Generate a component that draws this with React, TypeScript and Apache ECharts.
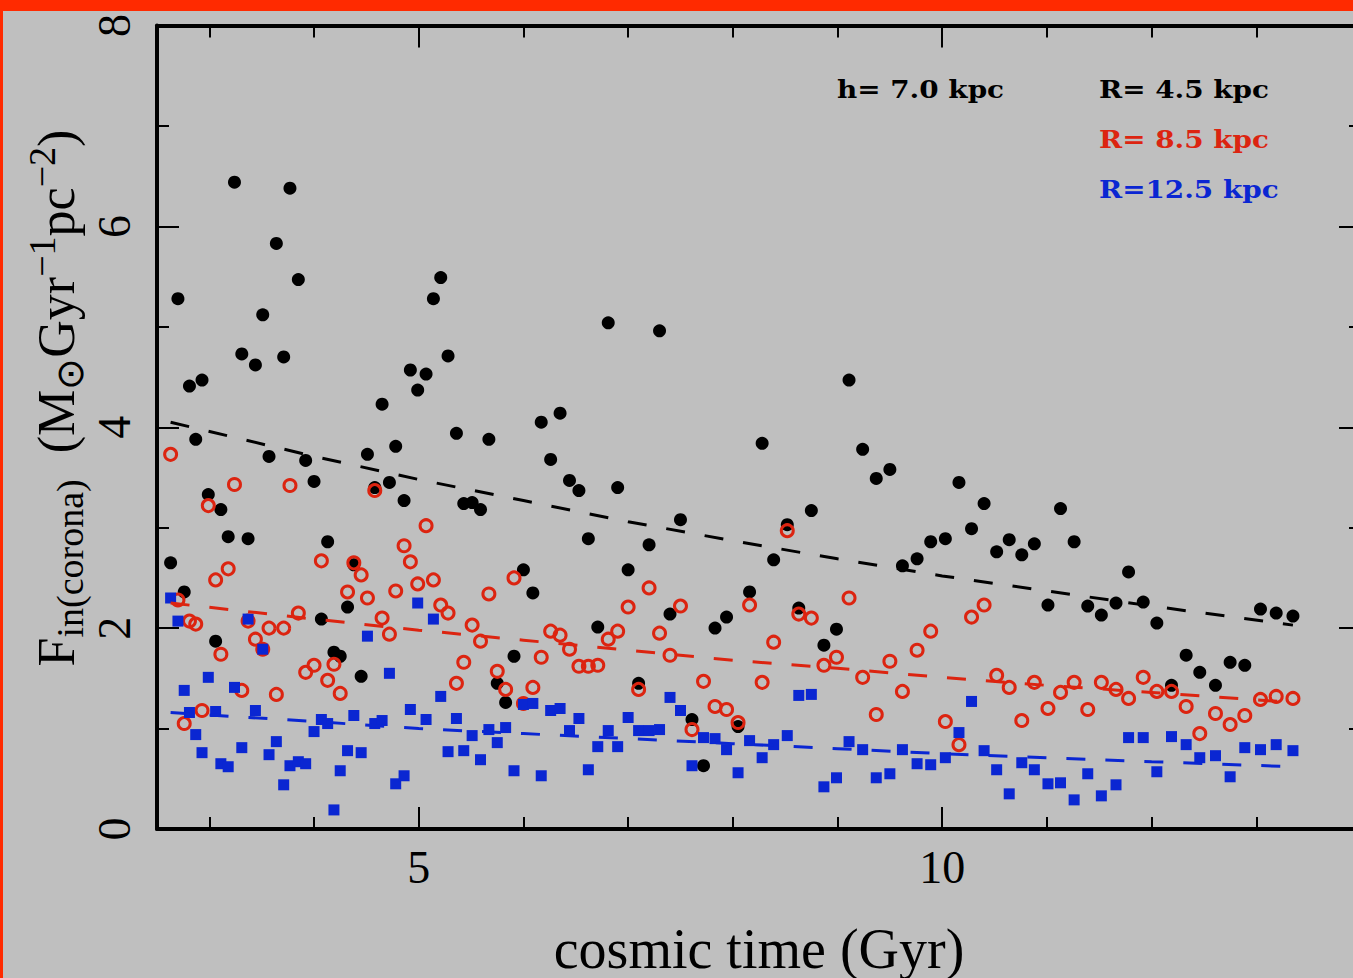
import React, { useEffect, useRef } from "react";
import * as echarts from "echarts";

// cosmic time of each snapshot (Gyr)
const times = [
  2.63, 2.7, 2.76, 2.81, 2.87, 2.93, 2.99, 3.06, 3.11, 3.18,
  3.24, 3.31, 3.37, 3.44, 3.51, 3.57, 3.64, 3.71, 3.77, 3.85,
  3.92, 4.0, 4.07, 4.13, 4.19, 4.25, 4.32, 4.38, 4.45, 4.51,
  4.58, 4.65, 4.72, 4.78, 4.86, 4.92, 4.99, 5.07, 5.14, 5.21,
  5.28, 5.36, 5.43, 5.51, 5.59, 5.67, 5.75, 5.83, 5.91, 6.0,
  6.09, 6.17, 6.26, 6.35, 6.44, 6.53, 6.62, 6.71, 6.81, 6.9,
  7.0, 7.1, 7.2, 7.3, 7.4, 7.5, 7.61, 7.72, 7.83, 7.94,
  8.05, 8.16, 8.28, 8.39, 8.52, 8.63, 8.75, 8.87, 8.99, 9.11,
  9.24, 9.37, 9.5, 9.62, 9.76, 9.89, 10.03, 10.16, 10.28, 10.4,
  10.52, 10.64, 10.76, 10.88, 11.01, 11.13, 11.26, 11.39, 11.52, 11.66,
  11.78, 11.92, 12.05, 12.19, 12.33, 12.46, 12.61, 12.75, 12.89, 13.04,
  13.19, 13.35,
];

// R = 4.5 kpc (black filled circles)
const fluxR45 = [
  2.65, 5.28, 2.36, 4.41, 3.88, 4.47, 3.33, 1.87, 3.18, 2.91,
  6.44, 4.73, 2.89, 4.62, 5.12, 3.71, 5.83, 4.7, 6.38, 5.47,
  3.67, 3.46, 2.09, 2.86, 1.76, 1.72, 2.21, 2.63, 1.52, 3.73,
  3.4, 4.23, 3.45, 3.81, 3.27, 4.57, 4.37, 4.53, 5.28, 5.49,
  4.71, 3.94, 3.24, 3.25, 3.18, 3.88, 1.45, 1.26, 1.72, 2.58,
  2.35, 4.05, 3.68, 4.14, 3.47, 3.37, 2.89, 2.01, 5.04, 3.4,
  2.58, 1.45, 2.83, 4.96, 2.14, 3.08, 1.09, 0.63, 2.0, 2.11,
  1.02, 2.36, 3.84, 2.68, 3.03, 2.2, 3.17, 1.83, 1.99, 4.47,
  3.78, 3.49, 3.58, 2.62, 2.69, 2.86, 2.89, 3.45, 2.99, 3.24,
  2.76, 2.88, 2.73, 2.84, 2.23, 3.19, 2.86, 2.22, 2.13, 2.25,
  2.56, 2.26, 2.05, 1.43, 1.73, 1.56, 1.43, 1.66, 1.63, 2.19,
  2.15, 2.12,
];

// R = 8.5 kpc (red open circles)
const fluxR85 = [
  3.73, 2.28, 1.05, 2.07, 2.04, 1.18, 3.22, 2.48, 1.74, 2.59,
  3.43, 1.38, 2.07, 1.89, 1.79, 2.0, 1.34, 2.0, 3.42, 2.15,
  1.56, 1.63, 2.67, 1.48, 1.64, 1.35, 2.36, 2.65, 2.53, 2.3,
  3.37, 2.1, 1.94, 2.37, 2.82, 2.66, 2.44, 3.02, 2.48, 2.23,
  2.15, 1.45, 1.66, 2.03, 1.87, 2.34, 1.57, 1.39, 2.5, 1.25,
  1.41, 1.71, 1.97, 1.93, 1.79, 1.62, 1.62, 1.63, 1.89, 1.97,
  2.21, 1.39, 2.4, 1.95, 1.73, 2.22, 0.99, 1.47, 1.22, 1.19,
  1.06, 2.23, 1.46, 1.86, 2.97, 2.14, 2.1, 1.63, 1.71, 2.3,
  1.51, 1.14, 1.67, 1.37, 1.78, 1.97, 1.07, 0.84, 2.11, 2.23,
  1.53, 1.41, 1.08, 1.46, 1.2, 1.36, 1.46, 1.19, 1.46, 1.39,
  1.3, 1.51, 1.37, 1.37, 1.22, 0.95, 1.15, 1.04, 1.13, 1.29,
  1.32, 1.3,
];

// R = 12.5 kpc (blue filled squares)
const fluxR125 = [
  2.3, 2.07, 1.38, 1.16, 0.94, 0.76, 1.51, 1.17, 0.65, 0.62,
  1.41, 0.81, 2.09, 1.18, 1.79, 0.74, 0.87, 0.44, 0.63, 0.67,
  0.65, 0.97, 1.09, 1.05, 0.19, 0.58, 0.78, 1.13, 0.76, 1.92,
  1.05, 1.08, 1.55, 0.45, 0.53, 1.19, 2.25, 1.09, 2.09, 1.32,
  0.77, 1.1, 0.78, 0.93, 0.69, 0.99, 0.86, 1.01, 0.58, 1.24,
  1.25, 0.53, 1.18, 1.2, 0.98, 1.1, 0.59, 0.82, 0.98, 0.82,
  1.11, 0.98, 0.98, 0.99, 1.31, 1.18, 0.63, 0.91, 0.9, 0.79,
  0.56, 0.88, 0.71, 0.84, 0.93, 1.33, 1.34, 0.42, 0.51, 0.87,
  0.79, 0.51, 0.55, 0.79, 0.65, 0.64, 0.71, 0.96, 1.27, 0.78,
  0.59, 0.35, 0.66, 0.59, 0.45, 0.46, 0.29, 0.55, 0.33, 0.44,
  0.91, 0.91, 0.57, 0.92, 0.84, 0.71, 0.73, 0.52, 0.81, 0.79,
  0.84, 0.78,
];

// dashed fit curves
const fitTimes = [2.63, 4, 5, 6, 7, 8, 9, 10, 11, 12, 13.35];
const fitR45 = [4.05, 3.71, 3.48, 3.27, 3.06, 2.87, 2.69, 2.52, 2.37, 2.22, 2.03];
const fitR85 = [2.25, 2.09, 1.98, 1.88, 1.78, 1.68, 1.6, 1.51, 1.43, 1.36, 1.26];
const fitR125 = [1.16, 1.07, 1.0, 0.95, 0.9, 0.85, 0.8, 0.75, 0.71, 0.67, 0.62];

const xMajorTicks = [5, 10];
const xMinorTicks = [3, 4, 6, 7, 8, 9, 11, 12, 13];
const heightLabel = "h= 7.0 kpc";
const radiusLabels = ["R= 4.5 kpc", "R= 8.5 kpc", "R=12.5 kpc"];

const BLACK = "#000000";
const RED = "#dc2410";
const BLUE = "#0a26d2";
const GRAY = "#bfbfbf";
const FRAME = "#ff2a00";

const OFF_X = 3;
const OFF_Y = 11;
const CW = 1420;
const CH = 978 - OFF_Y;

const pairs = (xs: number[], ys: number[]) => xs.map((x, i) => [x, ys[i]]);

export default function App() {
  const ref = useRef<HTMLDivElement>(null);

  useEffect(() => {
    if (!ref.current) return;
    const chart = echarts.init(ref.current, null, { renderer: "svg" });

    const serif = "Liberation Serif";
    const AXW = 4;
    const axisCommon = {
      type: "value" as const,
      min: 2.5,
      max: 14,
      splitLine: { show: false },
    };
    const yCommon = {
      type: "value" as const,
      min: 0,
      max: 8,
      interval: 2,
      splitLine: { show: false },
      axisLine: { show: true, lineStyle: { color: BLACK, width: AXW } },
      axisTick: { show: true, inside: true, length: 22, lineStyle: { color: BLACK, width: 2 } },
      minorTick: { show: true, splitNumber: 2, length: 12, lineStyle: { color: BLACK, width: 2 } },
    };

    const gridLeft = 157 - OFF_X;
    const gridTop = 25.5 - OFF_Y;
    const gridW = 1361 - 157;
    const gridH = 829 - 25.5;

    const legendX = 1099 - OFF_X;
    const legendColors = [BLACK, RED, BLUE];
    const legendFont = {
      fontFamily: "DejaVu Serif",
      fontWeight: "bold" as const,
      fontSize: 24,
    };

    const option: any = {
      animation: false,
      backgroundColor: GRAY,
      grid: {
        left: gridLeft,
        top: gridTop,
        width: gridW,
        height: gridH,
        containLabel: false,
        outerBoundsMode: "none",
      },
      xAxis: [
        {
          ...axisCommon,
          position: "bottom",
          axisLine: { show: true, lineStyle: { color: BLACK, width: AXW } },
          axisTick: {
            show: true,
            inside: true,
            length: 22,
            customValues: xMajorTicks,
            lineStyle: { color: BLACK, width: 2 },
          },
          axisLabel: {
            show: true,
            customValues: xMajorTicks,
            margin: 15,
            fontFamily: serif,
            fontSize: 46,
            color: BLACK,
          },
          name: "cosmic time (Gyr)",
          nameLocation: "middle",
          nameGap: 92,
          nameTextStyle: { fontFamily: serif, fontSize: 56, color: BLACK },
        },
        {
          ...axisCommon,
          position: "bottom",
          axisLine: { show: false },
          axisTick: {
            show: true,
            inside: true,
            length: 12,
            customValues: xMinorTicks,
            lineStyle: { color: BLACK, width: 2 },
          },
          axisLabel: { show: false },
        },
        {
          ...axisCommon,
          position: "top",
          axisLine: { show: true, lineStyle: { color: BLACK, width: AXW } },
          axisTick: {
            show: true,
            inside: true,
            length: 22,
            customValues: xMajorTicks,
            lineStyle: { color: BLACK, width: 2 },
          },
          axisLabel: { show: false },
        },
        {
          ...axisCommon,
          position: "top",
          axisLine: { show: false },
          axisTick: {
            show: true,
            inside: true,
            length: 12,
            customValues: xMinorTicks,
            lineStyle: { color: BLACK, width: 2 },
          },
          axisLabel: { show: false },
        },
      ],
      yAxis: [
        {
          ...yCommon,
          position: "left",
          axisLabel: {
            show: true,
            rotate: 90,
            margin: 20,
            fontFamily: serif,
            fontSize: 46,
            color: BLACK,
          },
        },
        {
          ...yCommon,
          position: "right",
          axisLabel: { show: false },
        },
      ],
      series: [
        {
          type: "scatter",
          data: pairs(times, fluxR45),
          symbol: "circle",
          symbolSize: 13,
          itemStyle: { color: BLACK, opacity: 1 },
          silent: true,
        },
        {
          type: "line",
          data: pairs(fitTimes, fitR45),
          showSymbol: false,
          symbol: "none",
          lineStyle: { color: BLACK, width: 3, type: [19, 20] },
          silent: true,
        },
        {
          type: "scatter",
          data: pairs(times, fluxR85),
          symbol: "circle",
          symbolSize: 12,
          itemStyle: { color: "rgba(0,0,0,0)", borderColor: RED, borderWidth: 3, opacity: 1 },
          silent: true,
        },
        {
          type: "line",
          data: pairs(fitTimes, fitR85),
          showSymbol: false,
          symbol: "none",
          lineStyle: { color: RED, width: 3, type: [19, 20] },
          silent: true,
        },
        {
          type: "scatter",
          data: pairs(times, fluxR125),
          symbol: "rect",
          symbolSize: 11,
          itemStyle: { color: BLUE, opacity: 1 },
          silent: true,
        },
        {
          type: "line",
          data: pairs(fitTimes, fitR125),
          showSymbol: false,
          symbol: "none",
          lineStyle: { color: BLUE, width: 3, type: [19, 20] },
          silent: true,
        },
      ],
      graphic: [
        {
          type: "text",
          x: 56 - OFF_X,
          y: 398 - OFF_Y,
          rotation: Math.PI / 2,
          silent: true,
          style: {
            text: "{m|F}{s|in(corona)}{m|  (M}{s|\u2299}{m|Gyr}{p|\u22121}{m|pc}{p|\u22122}{m|)}",
            align: "center",
            verticalAlign: "middle",
            fill: BLACK,
            rich: {
              m: { fontFamily: serif, fontSize: 52, lineHeight: 56, fill: BLACK },
              s: { fontFamily: serif, fontSize: 38, lineHeight: 38, padding: [28, 0, 0, 0], fill: BLACK },
              p: { fontFamily: serif, fontSize: 38, lineHeight: 38, padding: [0, 0, 28, 0], fill: BLACK },
            },
          },
        },
        {
          type: "text",
          x: 837 - OFF_X,
          y: 89.5 - OFF_Y,
          scaleX: 1.16,
          silent: true,
          style: {
            text: heightLabel,
            ...legendFont,
            fill: BLACK,
            align: "left",
            verticalAlign: "middle",
          },
        },
        ...radiusLabels.map((t, i) => ({
          type: "text",
          x: legendX,
          y: 89.5 + 50 * i - OFF_Y,
          scaleX: 1.16,
          silent: true,
          style: {
            text: t,
            ...legendFont,
            fill: legendColors[i],
            align: "left",
            verticalAlign: "middle",
          },
        })),
      ],
    };

    chart.setOption(option);
    return () => {
      chart.dispose();
    };
  }, []);

  return (
    <div
      style={{
        position: "fixed",
        left: 0,
        top: 0,
        width: 1353,
        height: 978,
        background: FRAME,
        overflow: "hidden",
      }}
    >
      <div
        ref={ref}
        style={{
          position: "absolute",
          left: OFF_X,
          top: OFF_Y,
          width: CW,
          height: CH,
        }}
      />
    </div>
  );
}
